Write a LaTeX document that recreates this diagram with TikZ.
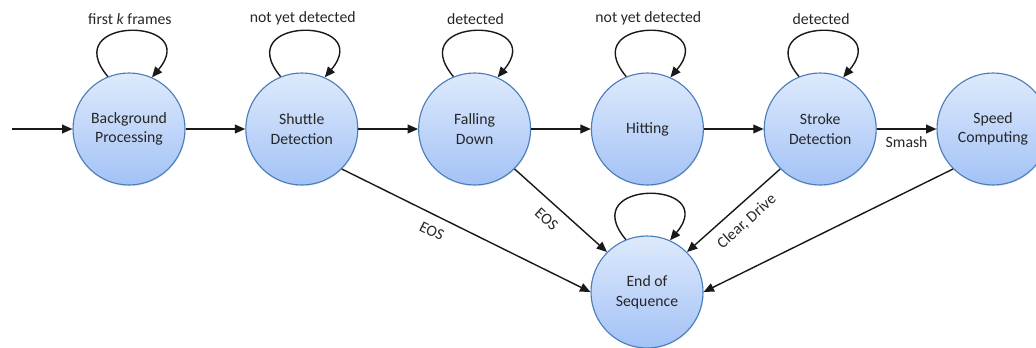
\documentclass[tikz,border=0pt]{standalone}
\usepackage{fontspec}
\setmainfont{Carlito}
\usetikzlibrary{arrows.meta,shadows}
\definecolor{stTop}{RGB}{222,234,252}
\definecolor{stBot}{RGB}{163,194,246}
\definecolor{stEdge}{RGB}{74,126,187}
\definecolor{txtCol}{RGB}{38,38,38}
\tikzset{
  state/.style={circle,draw=stEdge,line width=0.8pt,top color=stTop,bottom color=stBot,
                minimum size=2.8cm,inner sep=0pt,align=center,text=txtCol,
                font=\fontsize{11.2}{14}\selectfont,
                drop shadow={opacity=0.15,shadow xshift=0.5pt,shadow yshift=-0.9pt}},
  flow/.style={-{Triangle[length=2.6mm,width=2.2mm]},line width=1pt,draw=black!90},
  selfloop/.style={out=130,in=50,looseness=4.6},
  lab/.style={font=\fontsize{11.2}{14}\selectfont,text=txtCol,inner sep=2pt},
}

\begin{document}
\begin{tikzpicture}
  \useasboundingbox (0,0) rectangle (25.9,8.675);
  \node[state] (bg) at (3.225,5.45) {Background\\Processing};
  \node[state] (sd) at (7.545,5.45) {Shuttle\\Detection};
  \node[state] (fd) at (11.865,5.45) {Falling\\Down};
  \node[state] (hit) at (16.185,5.45) {Hitting};
  \node[state] (sk) at (20.505,5.45) {Stroke\\Detection};
  \node[state] (sp) at (24.825,5.45) {Speed\\Computing};
  \node[state] (eos) at (16.175,1.375) {End of\\Sequence};
  \coordinate (in) at (0.3,5.45);

  \draw[flow] (in) -- (bg);
  \draw[flow] (bg) -- (sd);
  \draw[flow] (sd) -- (fd);
  \draw[flow] (fd) -- (hit);
  \draw[flow] (hit) -- (sk);
  \draw[flow] (sk) -- node[lab,below=3pt] {Smash} (sp);

  \draw[flow] (sd.-45) -- node[lab,sloped,below=5pt,pos=0.39] {EOS} (eos.west);
  \draw[flow] (fd.-45) -- node[lab,sloped,below=5pt,pos=0.46] {EOS} (eos.135);
  \draw[flow] (sk.-135) -- node[lab,sloped,below=5pt,pos=0.48] {Clear, Drive} (eos.45);
  \draw[flow] (sp.-135) -- (eos.east);

  \draw[flow] (bg.112) to[selfloop] node[lab,above=2pt] {first \textit{k} frames} (bg.66);
  \draw[flow] (sd.112) to[selfloop] node[lab,above=2pt] {not yet detected} (sd.66);
  \draw[flow] (fd.112) to[selfloop] node[lab,above=2pt] {detected} (fd.66);
  \draw[flow] (hit.112) to[selfloop] node[lab,above=2pt] {not yet detected} (hit.66);
  \draw[flow] (sk.112) to[selfloop] node[lab,above=2pt] {detected} (sk.66);
  \draw[flow] (eos.112) to[selfloop] (eos.66);
\end{tikzpicture}
\end{document}
